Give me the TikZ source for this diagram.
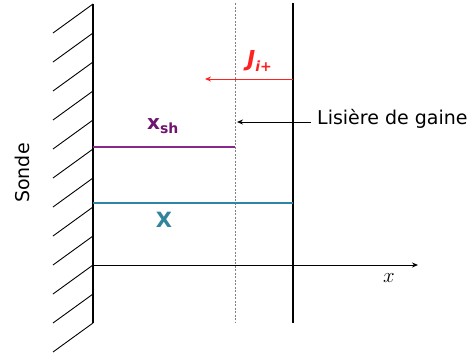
\documentclass[tikz,border=0pt]{standalone}
\usepackage{fontspec}
\setmainfont{DejaVu Sans}
\usepackage{xcolor}
\definecolor{gaine}{HTML}{86288C}
\definecolor{gainetxt}{HTML}{6E166F}
\definecolor{sarc}{HTML}{2B85A8}
\definecolor{sarctxt}{HTML}{31849B}
\definecolor{flux}{HTML}{FF2020}
\usetikzlibrary{arrows.meta}

\begin{document}
\begin{tikzpicture}[x=1pt,y=-1pt,
  trait/.style={line width=1.1pt},
  fleche/.style={-{Stealth[length=6pt,width=5pt]},line width=1pt},
  lbl/.style={font=\fontsize{19}{22}\selectfont,inner sep=0pt}]
  \useasboundingbox (0,0) rectangle (469,354);
  % sonde et hachures
  \coordinate (s0) at (93,4); \coordinate (s1) at (93,323);
  \draw[trait] (s0) -- (s1);
  \foreach \i in {0,...,11} \draw[line width=0.9pt] (93,4+29*\i) -- ++(-40,29);
  \node[lbl,rotate=90] (sonde) at (22,173) {Sonde};
  % lisiere de gaine et bord du plasma
  \coordinate (g0) at (235,3); \coordinate (g1) at (235,323);
  \coordinate (b0) at (293,3); \coordinate (b1) at (293,323);
  \draw[gray,line width=0.7pt,dash pattern=on 2pt off 1.5pt] (g0) -- (g1);
  \draw[trait] (b0) -- (b1);
  % axe
  \coordinate (o) at (93,265); \coordinate (xe) at (418,265);
  \draw[fleche] (o) -- (xe);
  \node[inner sep=0pt,anchor=base,font=\fontsize{21}{22}\selectfont] (xlab) at (389,282) {$x$};
  % epaisseurs
  \coordinate (sh0) at (93,147); \coordinate (sh1) at (235,147);
  \draw[trait,draw=gaine] (sh0) -- (sh1);
  \node[lbl,anchor=base west,text=gainetxt,font=\fontsize{20}{22}\selectfont] (xsh) at (147,129) {\bfseries x\raisebox{-4pt}{\fontsize{14}{14}\selectfont sh}};
  \coordinate (X0) at (93,203); \coordinate (X1) at (293,203);
  \draw[trait,draw=sarc] (X0) -- (X1);
  \node[lbl,anchor=base,text=sarctxt,font=\fontsize{21}{22}\selectfont] (Xlab) at (164,227) {\bfseries X};
  % flux ionique
  \coordinate (j0) at (293,79); \coordinate (j1) at (205,79);
  \draw[fleche,flux] (j0) -- (j1);
  \node[lbl,anchor=base west,text=flux,font=\fontsize{22}{24}\selectfont] (jlab) at (247,66) {\bfseries\itshape J\raisebox{-5pt}{\fontsize{14}{14}\selectfont i+}};
  % legende
  \node[lbl,anchor=base west,inner xsep=6pt] (lis) at (311,124) {Lisière de gaine};
  \coordinate (ls) at (237,122);
  \draw[fleche] (lis.west |- ls) -- (ls);
\end{tikzpicture}
\end{document}
